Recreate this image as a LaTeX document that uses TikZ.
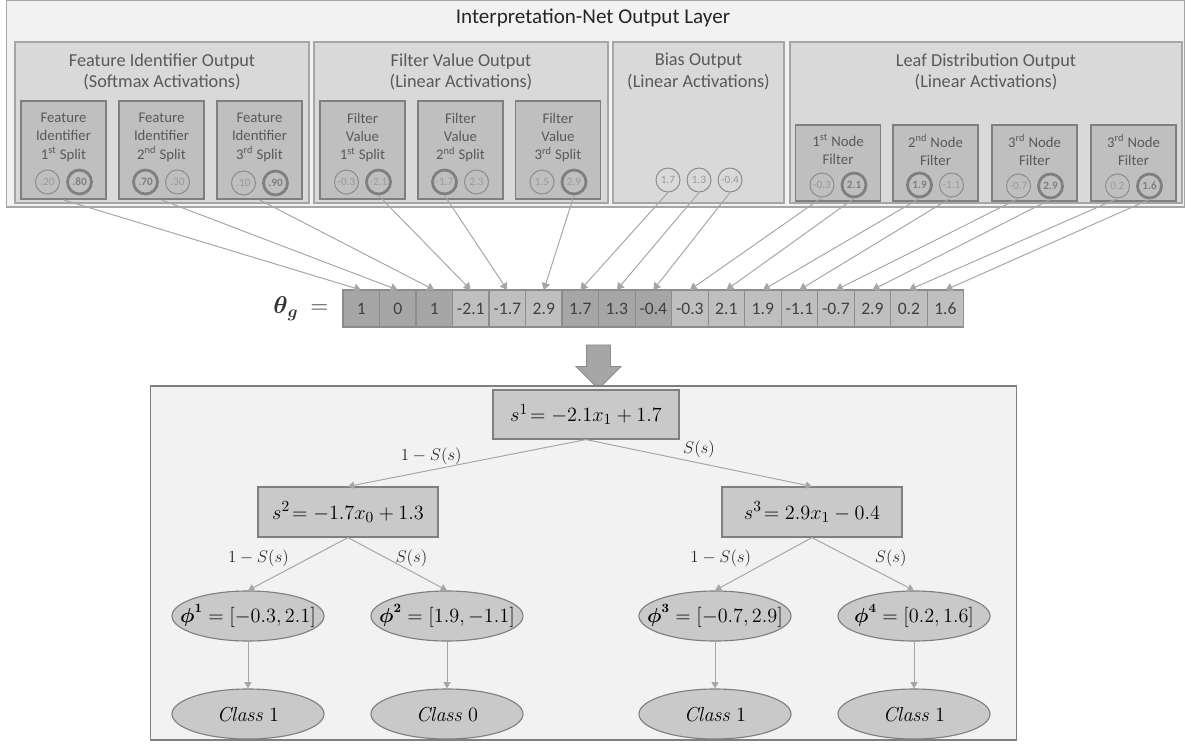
\documentclass[tikz,border=0pt]{standalone}
\usepackage{amsmath,amssymb}
\usepackage[no-math]{fontspec}
\setmainfont{Carlito}
\usepackage{tikz}
\usetikzlibrary{arrows.meta, positioning, shapes.geometric, shapes.arrows}

\definecolor{panelfill}{HTML}{F2F2F2}
\definecolor{groupfill}{HTML}{D9D9D9}
\definecolor{groupline}{HTML}{A6A6A6}
\definecolor{boxfill}{HTML}{BFBFBF}
\definecolor{boxline}{HTML}{7F7F7F}
\definecolor{treefill}{HTML}{C9C9C9}
\definecolor{darkcell}{HTML}{A6A6A6}
\definecolor{lightcell}{HTML}{BFBFBF}
\definecolor{wire}{HTML}{A6A6A6}
\definecolor{labeltext}{HTML}{595959}
\definecolor{celltext}{HTML}{404040}
\definecolor{ringline}{HTML}{8C8C8C}
\definecolor{ringtext}{HTML}{9A9A9A}

% ellipse text that does not widen the ellipse
\newcommand{\leaftext}[1]{\makebox[0pt]{#1}}

\begin{document}
\begin{tikzpicture}[
    x=0.025cm, y=-0.025cm,
    panel/.style={rectangle, draw=groupline, fill=panelfill, line width=0.8pt, inner sep=0pt},
    group/.style={rectangle, draw=groupline, fill=groupfill, line width=1.2pt, inner sep=0pt, minimum height=4.025cm},
    inbox/.style={rectangle, draw=boxline, fill=boxfill, line width=1.2pt, inner sep=0pt, minimum width=2.125cm},
    gtitle/.style={align=center, inner sep=0pt, text=labeltext, font=\fontsize{13}{15.5}\selectfont},
    itext/.style={align=center, inner sep=0pt, text=labeltext, font=\fontsize{10.5}{13}\selectfont},
    val/.style={circle, draw=ringline, line width=0.7pt, minimum size=0.6cm, inner sep=0pt, text=ringtext, font=\fontsize{8}{9}\selectfont},
    valthick/.style={val, draw=boxline, line width=2pt},
    valsel/.style={valthick, text=boxline, font=\fontsize{8}{9}\selectfont\bfseries},
    cell/.style={rectangle, draw=boxline!90, line width=0.8pt, minimum width=0.9125cm, minimum height=0.925cm, inner sep=0pt, outer sep=0pt, text=celltext, font=\fontsize{12.5}{14}\selectfont},
    celldark/.style={cell, fill=darkcell},
    celllight/.style={cell, fill=lightcell},
    feed/.style={draw=wire, line width=0.7pt, -{Triangle[width=6pt,length=5pt]}},
    downarrow/.style={single arrow, draw=ringline, fill=darkcell, line width=0.6pt, rotate=-90, minimum height=1.1cm, inner xsep=0pt, inner ysep=0.2875cm, single arrow head extend=0.2625cm},
    tbox/.style={rectangle, draw=boxline, fill=treefill, line width=0.8pt, minimum width=4.5cm, minimum height=1.25cm, font=\fontsize{15}{17}\selectfont},
    leaf/.style={ellipse, draw=boxline, fill=treefill, line width=0.8pt, minimum width=3.8cm, minimum height=1.25cm, inner sep=0pt, font=\fontsize{15}{17}\selectfont},
    phileaf/.style={leaf, font=\fontsize{13.5}{16}\selectfont},
    branch/.style={draw=wire, line width=0.7pt, -{Triangle[width=5pt,length=4.5pt]}},
    blabel/.style={font=\fontsize{13}{15}\selectfont, text=black!85}
]

\useasboundingbox (0,0) rectangle (1185,744);

% Output layer
\node[panel, minimum width=29.4375cm, minimum height=5.1625cm] (layer) at (595.75,103.75) {};
\node[font=\fontsize{15}{18}\selectfont, text=black!85] (title) at (593,18) {Interpretation-Net Output Layer};

% Output groups
\node[group, minimum width=7.35cm] (gfeat) at (162,122.5) {};
\node[group, minimum width=7.35cm] (gfilt) at (461,122.5) {};
\node[group, minimum width=4.275cm] (gbias) at (698.5,122.5) {};
\node[group, minimum width=9.8cm] (gleaf) at (986,122.5) {};
\node[gtitle, below=8.5pt of gfeat.north] (tfeat) {Feature Identifier Output\\(Softmax Activations)};
\node[gtitle, below=8.5pt of gfilt.north] (tfilt) {Filter Value Output\\(Linear Activations)};
\node[gtitle, below=8.5pt of gbias.north] (tbias) {Bias Output\\(Linear Activations)};
\node[gtitle, below=8.5pt of gleaf.north] (tleaf) {Leaf Distribution Output\\(Linear Activations)};

% Feature identifier boxes
\node[inbox, minimum height=2.45cm] (fi1) at (63.5,150) {};
\node[inbox, minimum height=2.45cm] (fi2) at (161.5,150) {};
\node[inbox, minimum height=2.45cm] (fi3) at (259.5,150) {};
\node[itext, below=9pt of fi1.north] (fi1t) {Feature\\Identifier\\1\textsuperscript{st} Split};
\node[itext, below=9pt of fi2.north] (fi2t) {Feature\\Identifier\\2\textsuperscript{nd} Split};
\node[itext, below=9pt of fi3.north] (fi3t) {Feature\\Identifier\\3\textsuperscript{rd} Split};
\node[val] (fi1a) at (47.5,182) {.20};
\node[valsel] (fi1b) at (79.5,182) {.80};
\node[valsel] (fi2a) at (145.5,182) {.70};
\node[val] (fi2b) at (177.5,182) {.30};
\node[val] (fi3a) at (243.5,183) {.10};
\node[valsel] (fi3b) at (275.5,183) {.90};

% Filter value boxes
\node[inbox, minimum height=2.45cm] (fv1) at (362.5,150) {};
\node[inbox, minimum height=2.45cm] (fv2) at (460.5,150) {};
\node[inbox, minimum height=2.45cm] (fv3) at (558,150) {};
\node[itext, below=9pt of fv1.north] (fv1t) {Filter\\Value\\1\textsuperscript{st} Split};
\node[itext, below=9pt of fv2.north] (fv2t) {Filter\\Value\\2\textsuperscript{nd} Split};
\node[itext, below=9pt of fv3.north] (fv3t) {Filter\\Value\\3\textsuperscript{rd} Split};
\node[val] (fv1a) at (346.5,182) {-0.3};
\node[valthick] (fv1b) at (378.5,182) {-2.1};
\node[valthick] (fv2a) at (444.5,182) {-1.7};
\node[val] (fv2b) at (476.5,182) {2.3};
\node[val] (fv3a) at (542,182) {1.5};
\node[valthick] (fv3b) at (574,182) {2.9};

% Bias values
\node[val] (b1) at (668,180) {1.7};
\node[val] (b2) at (699,180) {1.3};
\node[val] (b3) at (730,180) {-0.4};

% Leaf distribution boxes
\node[inbox, minimum height=1.9cm] (lf1) at (838,163) {};
\node[inbox, minimum height=1.9cm] (lf2) at (935.5,163) {};
\node[inbox, minimum height=1.9cm] (lf3) at (1034.5,163) {};
\node[inbox, minimum height=1.9cm] (lf4) at (1133.5,163) {};
\node[itext, below=7pt of lf1.north] (lf1t) {1\textsuperscript{st} Node\\Filter};
\node[itext, below=7pt of lf2.north] (lf2t) {2\textsuperscript{nd} Node\\Filter};
\node[itext, below=7pt of lf3.north] (lf3t) {3\textsuperscript{rd} Node\\Filter};
\node[itext, below=7pt of lf4.north] (lf4t) {3\textsuperscript{rd} Node\\Filter};
\node[val] (lf1a) at (822,185) {-0.3};
\node[valsel] (lf1b) at (854,185) {2.1};
\node[valsel] (lf2a) at (919.5,185) {1.9};
\node[val] (lf2b) at (951.5,185) {-1.1};
\node[val] (lf3a) at (1018.5,186) {-0.7};
\node[valsel] (lf3b) at (1050.5,186) {2.9};
\node[val] (lf4a) at (1117.5,186) {0.2};
\node[valsel] (lf4b) at (1149.5,186) {1.6};

% Parameter vector
\node[celldark] (v1) at (361.25,308.5) {1};
\node[celldark, right=0pt of v1] (v2) {0};
\node[celldark, right=0pt of v2] (v3) {1};
\node[celllight, right=0pt of v3] (v4) {-2.1};
\node[celllight, right=0pt of v4] (v5) {-1.7};
\node[celllight, right=0pt of v5] (v6) {2.9};
\node[celldark, right=0pt of v6] (v7) {1.7};
\node[celldark, right=0pt of v7] (v8) {1.3};
\node[celldark, right=0pt of v8] (v9) {-0.4};
\node[celllight, right=0pt of v9] (v10) {-0.3};
\node[celllight, right=0pt of v10] (v11) {2.1};
\node[celllight, right=0pt of v11] (v12) {1.9};
\node[celllight, right=0pt of v12] (v13) {-1.1};
\node[celllight, right=0pt of v13] (v14) {-0.7};
\node[celllight, right=0pt of v14] (v15) {2.9};
\node[celllight, right=0pt of v15] (v16) {0.2};
\node[celllight, right=0pt of v16] (v17) {1.6};
\node[left=0.25cm of v1, font=\fontsize{17}{20}\selectfont, text=black!80] (theta) {$\boldsymbol{\theta}_{\boldsymbol{g}}\ =$};

% Outputs into the vector
\draw[feed] (fi1.south) -- (v1.north);
\draw[feed] (fi2.south) -- (v2.north);
\draw[feed] (fi3.south) -- (v3.north);
\draw[feed] (fv1b.south) -- (v4.north);
\draw[feed] (fv2a.south) -- (v5.north);
\draw[feed] (fv3b.south) -- (v6.north);
\draw[feed] (b1.south) -- (v7.north);
\draw[feed] (b2.south) -- (v8.north);
\draw[feed] (b3.south) -- (v9.north);
\draw[feed] (lf1a.south) -- (v10.north);
\draw[feed] (lf1b.south) -- (v11.north);
\draw[feed] (lf2a.south) -- (v12.north);
\draw[feed] (lf2b.south) -- (v13.north);
\draw[feed] (lf3a.south) -- (v14.north);
\draw[feed] (lf3b.south) -- (v15.north);
\draw[feed] (lf4a.south) -- (v16.north);
\draw[feed] (lf4b.south) -- (v17.north);

% Decoded tree
\node[downarrow] (push) at (598.5,361) {};
\node[panel, draw=boxline, minimum width=21.625cm, minimum height=8.85cm] (treepanel) at (583.5,563) {};

\node[tbox, minimum width=4.65cm, minimum height=1.225cm] (s1) at (586,414.5) {$s^1\!= -2.1x_1 + 1.7$};
\node[tbox] (s2) at (348,512) {$s^2\!= -1.7x_0 + 1.3$};
\node[tbox] (s3) at (812,512) {$s^3\!= 2.9x_1 - 0.4$};

\node[phileaf] (p1) at (248,616) {\leaftext{$\boldsymbol{\phi}^{\mathbf{1}} = [-0.3, 2.1]$}};
\node[phileaf] (p2) at (447,616) {\leaftext{$\boldsymbol{\phi}^{\mathbf{2}} = [1.9, -1.1]$}};
\node[phileaf] (p3) at (715,616) {\leaftext{$\boldsymbol{\phi}^{\mathbf{3}} = [-0.7, 2.9]$}};
\node[phileaf] (p4) at (914,616) {\leaftext{$\boldsymbol{\phi}^{\mathbf{4}} = [0.2, 1.6]$}};

\node[leaf] (c1) at (248,714) {\leaftext{$\mathit{Class}\ 1$}};
\node[leaf] (c2) at (447,714) {\leaftext{$\mathit{Class}\ 0$}};
\node[leaf] (c3) at (715,714) {\leaftext{$\mathit{Class}\ 1$}};
\node[leaf] (c4) at (914,714) {\leaftext{$\mathit{Class}\ 1$}};

% Branches
\draw[branch] (s1.south) -- node[blabel, above, pos=0.65] {$1-S(s)$} (s2.north);
\draw[branch] (s1.south) -- node[blabel, above, pos=0.5] {$S(s)$} (s3.north);
\draw[branch] (s2.south) -- node[blabel, left=10pt, pos=0.4] {$1-S(s)$} (p1.north);
\draw[branch] (s2.south) -- node[blabel, right=2pt, pos=0.4] {$S(s)$} (p2.north);
\draw[branch] (s3.south) -- node[blabel, left=12pt, pos=0.4] {$1-S(s)$} (p3.north);
\draw[branch] (s3.south) -- node[blabel, right=12pt, pos=0.4] {$S(s)$} (p4.north);

% Leaves to classes
\draw[branch] (p1) -- (c1);
\draw[branch] (p2) -- (c2);
\draw[branch] (p3) -- (c3);
\draw[branch] (p4) -- (c4);

\end{tikzpicture}
\end{document}
